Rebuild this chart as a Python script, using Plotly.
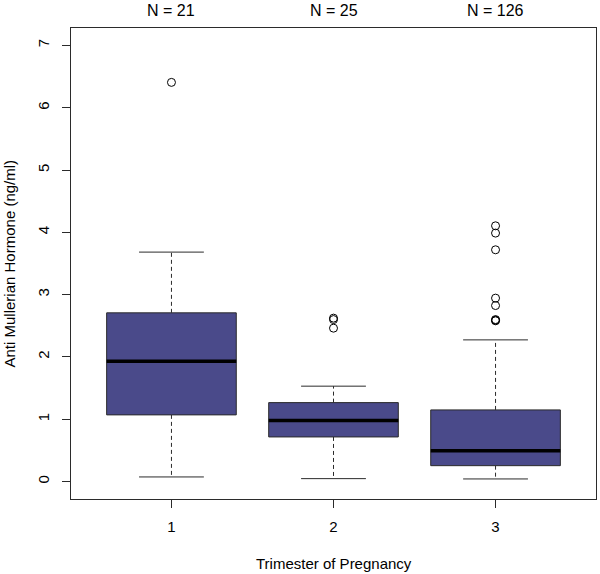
import plotly.graph_objects as go

groups = ["1", "2", "3"]
positions = [1, 2, 3]
n_labels = ["N = 21", "N = 25", "N = 126"]
lower_whisker = [0.074, 0.047, 0.042]
q1 = [1.070, 0.716, 0.255]
median = [1.932, 0.978, 0.496]
q3 = [2.708, 1.267, 1.150]
upper_whisker = [3.683, 1.531, 2.274]
outliers = [
    [6.407],
    [2.623, 2.600, 2.462],
    [4.105, 3.988, 3.720, 2.944, 2.825, 2.600, 2.590, 2.580],
]
y_ticks = [0, 1, 2, 3, 4, 5, 6, 7]

BOX_HALF = 0.4
CAP_HALF = 0.2
FILL = "#4A4A8A"
EDGE = "#2b2b2b"
FONT = "Liberation Sans, Arial, sans-serif"

fig = go.Figure()
for i, p in enumerate(positions):
    # dashed whiskers
    fig.add_trace(go.Scatter(x=[p, p], y=[q3[i], upper_whisker[i]], mode="lines",
                             line=dict(color=EDGE, width=1, dash="4px,3px"),
                             showlegend=False, hoverinfo="skip"))
    fig.add_trace(go.Scatter(x=[p, p], y=[q1[i], lower_whisker[i]], mode="lines",
                             line=dict(color=EDGE, width=1, dash="4px,3px"),
                             showlegend=False, hoverinfo="skip"))
    # caps
    for v in (upper_whisker[i], lower_whisker[i]):
        fig.add_trace(go.Scatter(x=[p - CAP_HALF, p + CAP_HALF], y=[v, v], mode="lines",
                                 line=dict(color=EDGE, width=1),
                                 showlegend=False, hoverinfo="skip"))
    # box body
    fig.add_trace(go.Scatter(
        x=[p - BOX_HALF, p + BOX_HALF, p + BOX_HALF, p - BOX_HALF, p - BOX_HALF],
        y=[q1[i], q1[i], q3[i], q3[i], q1[i]],
        mode="lines", fill="toself", fillcolor=FILL,
        line=dict(color=EDGE, width=1), showlegend=False, hoverinfo="skip"))
    # median
    fig.add_trace(go.Scatter(x=[p - BOX_HALF, p + BOX_HALF], y=[median[i], median[i]],
                             mode="lines", line=dict(color="black", width=3.5),
                             showlegend=False, hoverinfo="skip"))
    # outliers
    fig.add_trace(go.Scatter(x=[p] * len(outliers[i]), y=outliers[i], mode="markers",
                             marker=dict(symbol="circle-open", size=8,
                                         color="black", line=dict(width=1)),
                             showlegend=False))

annotations = []
for p, t in zip(positions, n_labels):
    annotations.append(dict(x=p, y=1, xref="x", yref="paper", text=t, showarrow=False,
                            yanchor="middle", yshift=18, font=dict(size=16, color="black", family=FONT)))
annotations.append(dict(x=0, y=0.5, xref="paper", yref="paper",
                        text="Anti Mullerian Hormone (ng/ml)", showarrow=False,
                        textangle=-90, xanchor="center", yanchor="middle", xshift=-62,
                        font=dict(size=15, color="black", family=FONT)))
annotations.append(dict(x=0.5, y=0, xref="paper", yref="paper",
                        text="Trimester of Pregnancy", showarrow=False,
                        xanchor="center", yanchor="middle", yshift=-64,
                        font=dict(size=15, color="black", family=FONT)))

fig.update_layout(
    width=600, height=574,
    margin=dict(l=71, r=4, t=28, b=75),
    plot_bgcolor="white", paper_bgcolor="white",
    font=dict(family=FONT, size=15, color="black"),
    annotations=annotations,
    xaxis=dict(range=[0.38, 3.62], tickvals=positions, ticktext=groups,
               ticks="outside", ticklen=8, tickcolor=EDGE, tickwidth=1,
               showline=True, mirror=True, linecolor=EDGE, linewidth=1,
               showgrid=False, zeroline=False, ticklabelstandoff=6,
               tickfont=dict(size=15)),
    yaxis=dict(range=[-0.28, 7.28], tickvals=y_ticks,
               ticks="outside", ticklen=8, tickcolor=EDGE, tickwidth=1,
               showline=True, mirror=True, linecolor=EDGE, linewidth=1,
               showgrid=False, zeroline=False, tickangle=-90, ticklabelstandoff=7,
               tickfont=dict(size=15)),
)

fig.write_html("out.html", config={"displayModeBar": False})

# remove the default page margin so the 600x574 figure fills the window exactly
with open("out.html", "r", encoding="utf-8") as f:
    html = f.read()
html = html.replace("<head>", "<head><style>html,body{margin:0;padding:0;overflow:hidden;}</style>", 1)
with open("out.html", "w", encoding="utf-8") as f:
    f.write(html)
